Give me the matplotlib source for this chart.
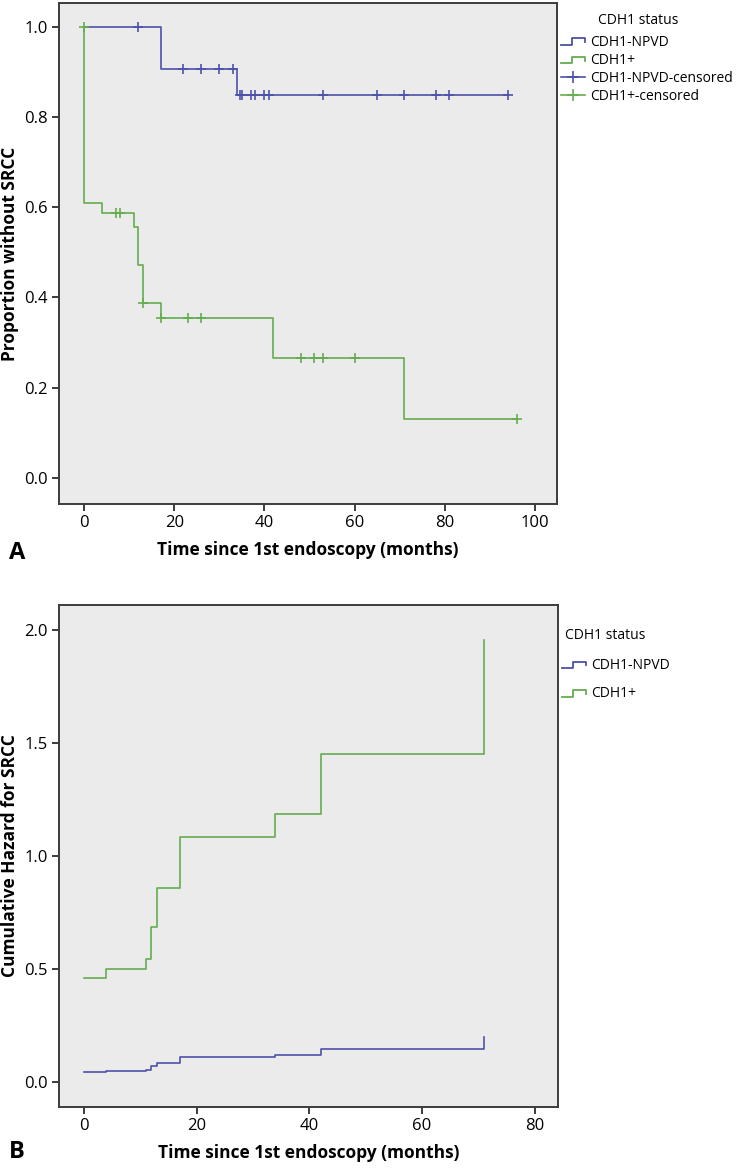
import numpy as np
import matplotlib
matplotlib.use('Agg')
import matplotlib.pyplot as plt
from matplotlib.lines import Line2D
from matplotlib.legend_handler import HandlerBase

plt.rcParams['font.family'] = ['Open Sans', 'DejaVu Sans']

BLUE = '#4C52A8'
GREEN = '#64AD4F'

# Panel A: Kaplan-Meier, proportion without SRCC
npvd_t = [0, 17, 34, 94]
npvd_s = [1.0, 0.906, 0.849, 0.849]
npvd_cens_t = [12, 22, 26, 30, 33, 34.5, 35, 37, 38, 40, 41, 53, 65, 71, 78, 81, 94]
npvd_cens_s = [1.0, 0.906, 0.906, 0.906, 0.906, 0.849, 0.849, 0.849, 0.849, 0.849,
               0.849, 0.849, 0.849, 0.849, 0.849, 0.849, 0.849]

pos_t = [0, 0, 4, 11, 12, 13, 17, 42, 71, 96]
pos_s = [1.0, 0.61, 0.587, 0.557, 0.472, 0.387, 0.355, 0.265, 0.131, 0.131]
pos_cens_t = [0, 7, 8, 13, 17, 23, 26, 48, 51, 53, 60, 96]
pos_cens_s = [1.0, 0.587, 0.587, 0.387, 0.355, 0.355, 0.355, 0.265, 0.265, 0.265, 0.265, 0.131]

# Panel B: cumulative hazard
haz_t = [0, 4, 11, 12, 13, 17, 34, 42, 71]
haz_npvd = [0.044, 0.049, 0.053, 0.068, 0.084, 0.108, 0.118, 0.145, 0.197]
haz_pos = [0.458, 0.498, 0.542, 0.686, 0.857, 1.084, 1.186, 1.451, 1.956]

groups = ['CDH1-NPVD', 'CDH1+']


class StepHandler(HandlerBase):
    # the little step glyph SPSS uses in its legends
    def create_artists(self, legend, orig_handle, xd, yd, width, height, fontsize, trans):
        lo = yd + height * 0.1
        hi = yd + height * 0.75
        xs = [xd, xd + width * 0.45, xd + width * 0.45, xd + width, xd + width]
        ys = [lo, lo, hi, hi, lo + height * 0.25]
        ln = Line2D(xs, ys, color=orig_handle.get_color(), lw=1.3, transform=trans)
        return [ln]


def style_axes(ax):
    ax.set_facecolor('#EBEBEB')
    for sp in ax.spines.values():
        sp.set_color('#3C3C3C')
        sp.set_linewidth(1.4)
    ax.tick_params(direction='out', length=5, width=1.4, color='#3C3C3C',
                   labelsize=12, pad=3)


fig = plt.figure(figsize=(7.38, 11.68), dpi=100)
leg_kw = dict(loc='upper left', frameon=False, fontsize=10, handlelength=1.73,
              handletextpad=0.36, borderaxespad=0, borderpad=0.3)

# ---- panel A
axA = fig.add_axes([0.0799, 0.5685, 0.6748, 0.4289])
style_axes(axA)
l1, = axA.plot(npvd_t, npvd_s, drawstyle='steps-post', color=BLUE, lw=1.2)
l2, = axA.plot(pos_t, pos_s, drawstyle='steps-post', color=GREEN, lw=1.2)
axA.plot(npvd_cens_t, npvd_cens_s, ls='none', marker='+', ms=7.5, mew=1.2, color=BLUE)
axA.plot(pos_cens_t, pos_cens_s, ls='none', marker='+', ms=7.5, mew=1.2, color=GREEN)
axA.set_xlim(-5.6, 104.9)
axA.set_ylim(-0.058, 1.053)
axA.set_xticks(np.arange(0, 101, 20))
axA.set_yticks(np.arange(0, 1.01, 0.2))
axA.set_yticklabels([f'{v:.1f}' for v in np.arange(0, 1.01, 0.2)])
axA.set_xlabel('Time since 1st endoscopy (months)', fontsize=12.5, fontweight='bold', labelpad=7)
axA.set_ylabel('Proportion without SRCC', fontsize=12.5, fontweight='bold', va='center')
axA.yaxis.set_label_coords(-0.098, 0.5)

hc1 = Line2D([], [], color=BLUE, lw=1.2, marker='+', ms=9, mew=1.2)
hc2 = Line2D([], [], color=GREEN, lw=1.2, marker='+', ms=9, mew=1.2)
axA.legend([l1, l2, hc1, hc2],
           [groups[0], groups[1], groups[0] + '-censored', groups[1] + '-censored'],
           handler_map={l1: StepHandler(), l2: StepHandler()},
           bbox_to_anchor=(1.0, 0.945), labelspacing=0.23, **leg_kw)
axA.text(1.082, 0.966, 'CDH1 status', transform=axA.transAxes, fontsize=10,
         ha='left', va='center')

fig.text(0.012, 1 - 553 / 1168, 'A', fontsize=17, fontweight='bold', va='center')

# ---- panel B
axB = fig.add_axes([0.0799, 0.0522, 0.6761, 0.4298])
style_axes(axB)
b1, = axB.plot(haz_t, haz_npvd, drawstyle='steps-post', color=BLUE, lw=1.2)
b2, = axB.plot(haz_t, haz_pos, drawstyle='steps-post', color=GREEN, lw=1.2)
axB.set_xlim(-4.4, 84.1)
axB.set_ylim(-0.112, 2.111)
axB.set_xticks(np.arange(0, 81, 20))
axB.set_yticks(np.arange(0, 2.01, 0.5))
axB.set_yticklabels([f'{v:.1f}' for v in np.arange(0, 2.01, 0.5)])
axB.set_xlabel('Time since 1st endoscopy (months)', fontsize=12.5, fontweight='bold', labelpad=7)
axB.set_ylabel('Cumulative Hazard for SRCC', fontsize=12.5, fontweight='bold', va='center')
axB.yaxis.set_label_coords(-0.098, 0.5)
axB.legend([b1, b2], groups, handler_map={b1: StepHandler(), b2: StepHandler()},
           bbox_to_anchor=(1.0, 0.903), labelspacing=0.98, **leg_kw)
axB.text(1.014, 0.940, 'CDH1 status', transform=axB.transAxes, fontsize=10,
         ha='left', va='center')

fig.text(0.012, 1 - 1152 / 1168, 'B', fontsize=17, fontweight='bold', va='center')

fig.savefig('out.png', dpi=100)
